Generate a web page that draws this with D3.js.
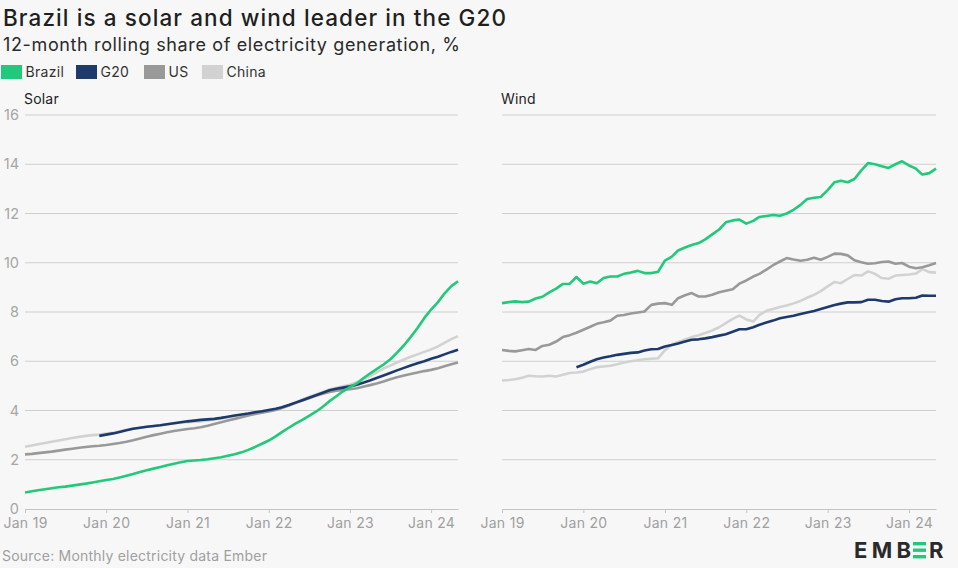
<!DOCTYPE html>
<html>
<head>
<meta charset="utf-8">
<script src="https://cdn.jsdelivr.net/npm/d3@7"></script>
<style>
  html, body { margin: 0; padding: 0; background: #f7f7f7; }
  svg { display: block; font-family: Inter, "Open Sans", sans-serif; }
</style>
</head>
<body>
<svg id="chart" width="958" height="568"></svg>
<script>
// ---------- DATA (monthly, Jan 2019 .. May 2024) ----------
const startMonth = [2019, 0];
const nMonths = 65;
const seriesNames = ["Brazil", "G20", "US", "China"];
const seriesColors = ["#22c97a", "#1d3a6b", "#999999", "#d2d2d2"];
const yTicks = [0, 2, 4, 6, 8, 10, 12, 14, 16];
const xTickLabels = ["Jan 19", "Jan 20", "Jan 21", "Jan 22", "Jan 23", "Jan 24"];
const panelTitles = ["Solar", "Wind"];

const solarBrazil = [0.67,0.72,0.76,0.80,0.84,0.88,0.91,0.95,0.99,1.03,1.08,1.13,
  1.18,1.22,1.28,1.35,1.42,1.50,1.57,1.64,1.71,1.78,1.84,1.90,
  1.95,1.97,1.99,2.02,2.06,2.10,2.16,2.22,2.30,2.40,2.52,2.65,
  2.78,2.95,3.12,3.30,3.47,3.62,3.78,3.95,4.15,4.38,4.58,4.78,
  4.95,5.10,5.30,5.50,5.68,5.87,6.07,6.35,6.65,6.98,7.35,7.75,
  8.10,8.40,8.75,9.05,9.25];
const solarG20 = [null,null,null,null,null,null,null,null,null,null,null,2.97,
  3.02,3.07,3.13,3.20,3.26,3.30,3.34,3.37,3.40,3.44,3.48,3.52,
  3.56,3.59,3.62,3.64,3.66,3.70,3.75,3.80,3.84,3.88,3.93,3.97,
  4.02,4.07,4.13,4.22,4.32,4.42,4.52,4.62,4.72,4.82,4.88,4.93,
  4.98,5.05,5.13,5.22,5.32,5.42,5.52,5.63,5.73,5.83,5.92,6.00,
  6.10,6.18,6.28,6.38,6.47];
const solarUS = [2.22,2.24,2.27,2.30,2.33,2.37,2.41,2.45,2.49,2.52,2.55,2.57,
  2.60,2.64,2.68,2.73,2.79,2.86,2.93,3.00,3.06,3.12,3.17,3.21,
  3.25,3.28,3.32,3.38,3.45,3.52,3.59,3.66,3.73,3.80,3.86,3.91,
  3.96,4.02,4.10,4.20,4.30,4.40,4.50,4.60,4.68,4.75,4.80,4.83,
  4.86,4.90,4.96,5.03,5.10,5.18,5.27,5.35,5.42,5.48,5.54,5.60,
  5.65,5.72,5.80,5.88,5.95];
const solarChina = [2.53,2.58,2.63,2.68,2.73,2.78,2.83,2.88,2.93,2.97,3.00,3.02,
  3.06,3.10,3.16,3.22,3.27,3.30,3.33,3.36,3.40,3.44,3.48,3.50,
  3.52,3.54,3.56,3.60,3.64,3.68,3.73,3.78,3.83,3.88,3.92,3.95,
  3.98,4.03,4.10,4.20,4.32,4.45,4.55,4.65,4.75,4.85,4.92,4.98,
  5.05,5.15,5.27,5.40,5.55,5.70,5.82,5.95,6.07,6.18,6.28,6.38,
  6.48,6.60,6.75,6.90,7.02];

const windBrazil = [8.36,8.40,8.43,8.40,8.42,8.55,8.62,8.80,8.95,9.14,9.15,9.42,
  9.15,9.24,9.17,9.38,9.44,9.44,9.55,9.60,9.67,9.58,9.58,9.63,
  10.09,10.25,10.50,10.62,10.72,10.80,10.95,11.15,11.35,11.64,11.72,11.75,
  11.59,11.70,11.86,11.90,11.94,11.91,12.00,12.15,12.35,12.59,12.64,12.67,
  12.95,13.27,13.33,13.27,13.40,13.75,14.05,14.00,13.92,13.85,14.00,14.12,
  13.95,13.82,13.58,13.64,13.82];
const windG20 = [null,null,null,null,null,null,null,null,null,null,null,5.76,
  5.86,5.98,6.08,6.15,6.20,6.26,6.30,6.34,6.36,6.44,6.49,6.50,
  6.60,6.66,6.72,6.80,6.87,6.89,6.93,6.98,7.04,7.10,7.20,7.30,
  7.30,7.38,7.48,7.57,7.65,7.75,7.80,7.85,7.92,7.98,8.04,8.12,
  8.20,8.28,8.34,8.39,8.39,8.40,8.50,8.50,8.45,8.42,8.52,8.56,
  8.56,8.58,8.67,8.66,8.66];
const windUS = [6.46,6.42,6.40,6.45,6.50,6.46,6.62,6.67,6.80,6.98,7.06,7.16,
  7.28,7.40,7.52,7.58,7.65,7.85,7.88,7.94,7.98,8.02,8.29,8.34,
  8.36,8.29,8.56,8.68,8.77,8.63,8.63,8.70,8.80,8.86,8.92,9.15,
  9.28,9.44,9.55,9.72,9.90,10.05,10.19,10.13,10.08,10.12,10.20,10.12,
  10.24,10.37,10.36,10.30,10.10,10.02,9.96,9.98,10.03,10.05,9.96,9.99,
  9.84,9.78,9.82,9.90,9.99];
const windChina = [5.22,5.24,5.27,5.33,5.41,5.39,5.38,5.41,5.38,5.45,5.52,5.54,
  5.58,5.68,5.76,5.79,5.82,5.88,5.95,6.00,6.04,6.08,6.10,6.12,
  6.45,6.68,6.78,6.88,6.98,7.06,7.15,7.25,7.38,7.55,7.72,7.85,
  7.70,7.61,7.88,8.05,8.12,8.20,8.26,8.35,8.45,8.58,8.70,8.85,
  9.04,9.22,9.17,9.34,9.50,9.48,9.65,9.55,9.38,9.35,9.48,9.50,
  9.52,9.56,9.74,9.62,9.60];

const solarSeries = [solarBrazil, solarG20, solarUS, solarChina];
const windSeries = [windBrazil, windG20, windUS, windChina];

// ---------- DRAW ----------
const svg = d3.select("#chart");
const W = 958, H = 568;
svg.append("rect").attr("width", W).attr("height", H).attr("fill", "#f7f7f7");

const dates = d3.range(nMonths).map(i => new Date(startMonth[0], startMonth[1] + i, 1));
const y = d3.scaleLinear().domain([0, 16]).range([509, 115]);

// Title & subtitle
svg.append("text").attr("x", 3).attr("y", 26)
  .attr("font-size", 22.5).attr("font-weight", 500).attr("fill", "#1f1f1f")
  .attr("textLength", 503).attr("lengthAdjust", "spacing")
  .text("Brazil is a solar and wind leader in the G20");
svg.append("text").attr("x", 3).attr("y", 51)
  .attr("font-size", 18).attr("fill", "#2a2a2a")
  .attr("textLength", 457).attr("lengthAdjust", "spacing")
  .text("12-month rolling share of electricity generation, %");

// Legend
const legendX = [1, 76, 144, 202];
const lg = svg.append("g");
seriesNames.forEach((name, i) => {
  lg.append("rect").attr("x", legendX[i]).attr("y", 65).attr("width", 21).attr("height", 14)
    .attr("fill", seriesColors[i]);
  lg.append("text").attr("x", legendX[i] + 24.5).attr("y", 76.5)
    .attr("font-size", 14).attr("letter-spacing", 0.3).attr("fill", "#333").text(name);
});

function drawPanel(x0, x1, series, title, showY) {
  const x = d3.scaleTime().domain([dates[0], dates[nMonths - 1]]).range([x0, x1]);
  const g = svg.append("g");

  // gridlines
  g.selectAll(".grid").data(yTicks.filter(t => t > 0)).enter().append("line")
    .attr("x1", x0).attr("x2", x1)
    .attr("y1", d => y(d)).attr("y2", d => y(d))
    .attr("stroke", "#cfcfcf").attr("stroke-width", 1);

  if (showY) {
    g.selectAll(".ylab").data(yTicks).enter().append("text")
      .attr("x", 19).attr("y", d => y(d)).attr("dy", "0.35em")
      .attr("text-anchor", "end").attr("font-size", 14.5).attr("fill", "#a6a6a6")
      .text(d => d);
  }

  // x axis
  const tickDates = d3.range(6).map(i => new Date(2019 + i, 0, 1));
  const axis = d3.axisBottom(x).tickValues(tickDates)
    .tickFormat((d, i) => xTickLabels[i]).tickSize(4).tickPadding(5).tickSizeOuter(0);
  const ag = g.append("g").attr("transform", `translate(0,${y(0)})`).call(axis);
  ag.select(".domain").attr("stroke", "#c4c4c4");
  ag.selectAll(".tick line").attr("stroke", "#c4c4c4");
  ag.selectAll(".tick text").attr("font-size", 14).attr("fill", "#a0a0a0")
    .attr("letter-spacing", 0.3)
    .attr("font-family", "Inter, 'Open Sans', sans-serif");

  // panel title
  g.append("text").attr("x", x0 - 1).attr("y", 104)
    .attr("font-size", 14).attr("letter-spacing", 0.2).attr("fill", "#222").text(title);

  // lines
  const line = d3.line()
    .defined(d => d.v !== null)
    .x(d => x(d.date)).y(d => y(d.v));
  [3, 2, 1, 0].forEach(i => {
    const data = series[i].map((v, k) => ({ date: dates[k], v: v }));
    g.append("path").datum(data)
      .attr("d", line).attr("fill", "none")
      .attr("stroke", seriesColors[i]).attr("stroke-width", 2.6)
      .attr("stroke-linejoin", "round").attr("stroke-linecap", "butt");
  });
}

drawPanel(25, 458, solarSeries, panelTitles[0], true);
drawPanel(502, 936, windSeries, panelTitles[1], false);

// Source
svg.append("text").attr("x", 2).attr("y", 561)
  .attr("font-size", 14).attr("fill", "#a0a0a0")
  .attr("textLength", 265).attr("lengthAdjust", "spacing")
  .text("Source: Monthly electricity data Ember");

// EMBER logo
const logo = svg.append("g");
logo.append("text").attr("x", 854).attr("y", 558)
  .attr("font-size", 22).attr("font-weight", 700).attr("fill", "#2a2a2a")
  .attr("font-family", "Inter, sans-serif")
  .attr("textLength", 57).attr("lengthAdjust", "spacing")
  .text("EMB");
[542, 548.5, 555].forEach(yy => {
  logo.append("rect").attr("x", 913).attr("y", yy).attr("width", 13).attr("height", 3.4)
    .attr("fill", "#22c97a");
});
logo.append("text").attr("x", 929).attr("y", 558)
  .attr("font-size", 22).attr("font-weight", 700).attr("fill", "#2a2a2a")
  .attr("font-family", "Inter, sans-serif")
  .text("R");
</script>
</body>
</html>
